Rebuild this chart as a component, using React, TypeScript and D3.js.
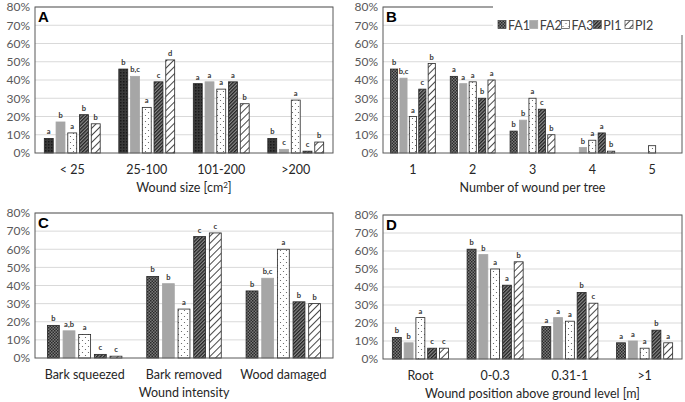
import * as d3 from 'd3';

const series = ['FA1', 'FA2', 'FA3', 'PI1', 'PI2'];
const yTicks = [0, 10, 20, 30, 40, 50, 60, 70, 80];

// Panel A - wound size
const sizeCats = ['< 25', '25-100', '101-200', '>200'];
const sizeValues = [
  [8, 46, 38, 8],
  [17, 42, 39, 2],
  [11, 25, 35, 29],
  [21, 39, 39, 1],
  [16, 51, 27, 6],
];
const sizeLetters = [
  ['a', 'b', 'a', 'b'],
  ['b', 'b,c', 'a', 'c'],
  ['a', 'a', 'a', 'a'],
  ['b', 'c', 'a', 'c'],
  ['b', 'd', 'b', 'b'],
];

// Panel B - number of wounds
const countCats = ['1', '2', '3', '4', '5'];
const countValues = [
  [46, 42, 12, 0, 0],
  [41, 38, 18, 3, 0],
  [20, 39, 30, 7, 4],
  [35, 30, 24, 11, 0],
  [49, 40, 10, 1, 0],
];
const countLetters = [
  ['b', 'a', 'b', '', ''],
  ['b,c', 'a', 'b', 'b', ''],
  ['a', 'a', 'a', 'a', ''],
  ['c', 'b', 'c', 'a', ''],
  ['b', 'a', 'b', 'b', ''],
];

// Panel C - wound intensity
const intensityCats = ['Bark squeezed', 'Bark removed', 'Wood damaged'];
const intensityValues = [
  [18, 45, 37],
  [15, 41, 44],
  [13, 27, 60],
  [2, 67, 31],
  [1, 69, 30],
];
const intensityLetters = [
  ['b', 'b', 'b'],
  ['a,b', 'b', 'b,c'],
  ['a', 'a', 'a'],
  ['c', 'c', 'b'],
  ['c', 'c', 'b'],
];

// Panel D - wound position
const positionCats = ['Root', '0-0.3', '0.31-1', '>1'];
const positionValues = [
  [12, 61, 18, 9],
  [9, 58, 23, 10],
  [23, 50, 21, 6],
  [6, 41, 37, 16],
  [6, 54, 31, 9],
];
const positionLetters = [
  ['b', 'b', 'a', 'a'],
  ['b', 'b', 'a', 'a'],
  ['a', 'a', 'a', 'a'],
  ['c', 'a', 'b', 'b'],
  ['c', 'b', 'c', 'a'],
];

const fills = ['url(#pFA1)', '#a6a6a6', 'url(#pFA3)', 'url(#pPI1)', 'url(#pPI2)'];
const strokes = ['#262626', '#a6a6a6', '#262626', '#262626', '#262626'];
const font = "Lato, 'Open Sans', sans-serif";

interface PanelProps {
  tag: string;
  cats: string[];
  values: number[][];
  letters: string[][];
  box: { left: number; right: number; top: number; bottom: number };
  title: React.ReactNode;
  fa1?: string;
}

const Panel = ({ tag, cats, values, letters, box, title, fa1 }: PanelProps) => {
  const y = d3.scaleLinear().domain([0, 80]).range([box.bottom, box.top]);
  const x = d3.scaleBand<string>().domain(cats).range([box.left, box.right]).paddingInner(0.25).paddingOuter(0.125);
  const inner = d3.scaleBand<string>().domain(series).range([0, x.bandwidth()]).paddingInner(0.24);
  return (
    <g>
      {yTicks.slice(1).map((t) => (
        <line key={t} x1={box.left} x2={box.right} y1={y(t)} y2={y(t)} stroke="#d9d9d9" strokeWidth={1} />
      ))}
      {yTicks.map((t) => (
        <text key={t} x={box.left - 5} y={y(t)} dy="0.36em" textAnchor="end" fontSize={12} fill="#595959" fontFamily={font}>
          {t}%
        </text>
      ))}
      {series.map((s, si) =>
        cats.map((c, ci) => {
          const v = values[si][ci];
          if (!v) return null;
          const bx = (x(c) ?? 0) + (inner(s) ?? 0);
          const fill = si === 0 && fa1 ? fa1 : fills[si];
          return (
            <g key={s + c}>
              <rect x={bx} y={y(v)} width={inner.bandwidth()} height={y(0) - y(v)} fill={fill} stroke={strokes[si]} strokeWidth={0.8} />
              {letters[si][ci] && (
                <text x={bx + inner.bandwidth() / 2} y={y(v) - 4} textAnchor="middle" fontSize={7.5} fontWeight="bold" fill="#333" fontFamily={font}>
                  {letters[si][ci]}
                </text>
              )}
            </g>
          );
        })
      )}
      <rect x={box.left} y={box.top} width={box.right - box.left} height={box.bottom - box.top} fill="none" stroke="#595959" strokeWidth={1} />
      {cats.map((c) => (
        <text key={c} x={(x(c) ?? 0) + x.bandwidth() / 2} y={box.bottom + 21} textAnchor="middle" fontSize={12.5} fill="#262626" fontFamily={font}>
          {c}
        </text>
      ))}
      <text x={(box.left + box.right) / 2} y={box.bottom + 39} textAnchor="middle" fontSize={12.5} fill="#262626" fontFamily={font}>
        {title}
      </text>
      <text x={box.left + 3} y={box.top + 15} fontSize={15} fontWeight="bold" fill="#000" fontFamily="'Liberation Sans', Arial, sans-serif">
        {tag}
      </text>
    </g>
  );
};

const App = () => {
  const legendX = d3.scalePoint<string>().domain(series).range([498, 625]);
  return (
    <svg width={685} height={402} style={{ position: 'absolute', left: 0, top: 0, background: '#fff' }}>
      <defs>
        <pattern id="pFA1" width={3} height={3} patternUnits="userSpaceOnUse">
          <rect width={3} height={3} fill="#7a7a7a" />
          <rect width={1.5} height={1.5} fill="#2a2a2a" />
          <rect x={1.5} y={1.5} width={1.5} height={1.5} fill="#2a2a2a" />
        </pattern>
        <pattern id="pFA1dark" width={3} height={3} patternUnits="userSpaceOnUse">
          <rect width={3} height={3} fill="#3a3a3a" />
          <rect width={1.5} height={1.5} fill="#1a1a1a" />
        </pattern>
        <pattern id="pFA3" width={6} height={6} patternUnits="userSpaceOnUse">
          <rect width={6} height={6} fill="#fff" />
          <circle cx={1.5} cy={1.5} r={0.6} fill="#555" />
          <circle cx={4.5} cy={4.5} r={0.6} fill="#555" />
        </pattern>
        <pattern id="pPI1" width={2.5} height={2.5} patternUnits="userSpaceOnUse" patternTransform="rotate(45)">
          <rect width={2.5} height={2.5} fill="#8a8a8a" />
          <rect width={1.3} height={2.5} fill="#222" />
        </pattern>
        <pattern id="pPI2" width={5} height={5} patternUnits="userSpaceOnUse" patternTransform="rotate(45)">
          <rect width={5} height={5} fill="#fff" />
          <rect width={0.9} height={5} fill="#333" />
        </pattern>
      </defs>
      <Panel tag="A" cats={sizeCats} values={sizeValues} letters={sizeLetters} fa1="url(#pFA1dark)"
        box={{ left: 35, right: 333, top: 7, bottom: 153 }}
        title={<>Wound size [cm<tspan fontSize={8} dy={-4}>2</tspan><tspan dy={4}>]</tspan></>} />
      <Panel tag="B" cats={countCats} values={countValues} letters={countLetters}
        box={{ left: 383, right: 682, top: 7, bottom: 153 }} title="Number of wound per tree" />
      <Panel tag="C" cats={intensityCats} values={intensityValues} letters={intensityLetters}
        box={{ left: 35, right: 333, top: 213, bottom: 358 }} title="Wound intensity" />
      <Panel tag="D" cats={positionCats} values={positionValues} letters={positionLetters}
        box={{ left: 383, right: 682, top: 215, bottom: 359 }} title="Wound position above ground level [m]" />
      <rect x={493} y={0} width={192} height={35} fill="#fff" />
      {series.map((s, i) => (
        <g key={s} transform={`translate(${legendX(s)}, 25)`}>
          <rect x={0} y={-4.5} width={8} height={8} fill={fills[i]} stroke={i === 1 ? '#a6a6a6' : '#404040'} strokeWidth={0.7} />
          <text x={10} y={0} dy="0.36em" fontSize={12.5} fill="#404040" fontFamily={font}>{s}</text>
        </g>
      ))}
    </svg>
  );
};

export default App;
